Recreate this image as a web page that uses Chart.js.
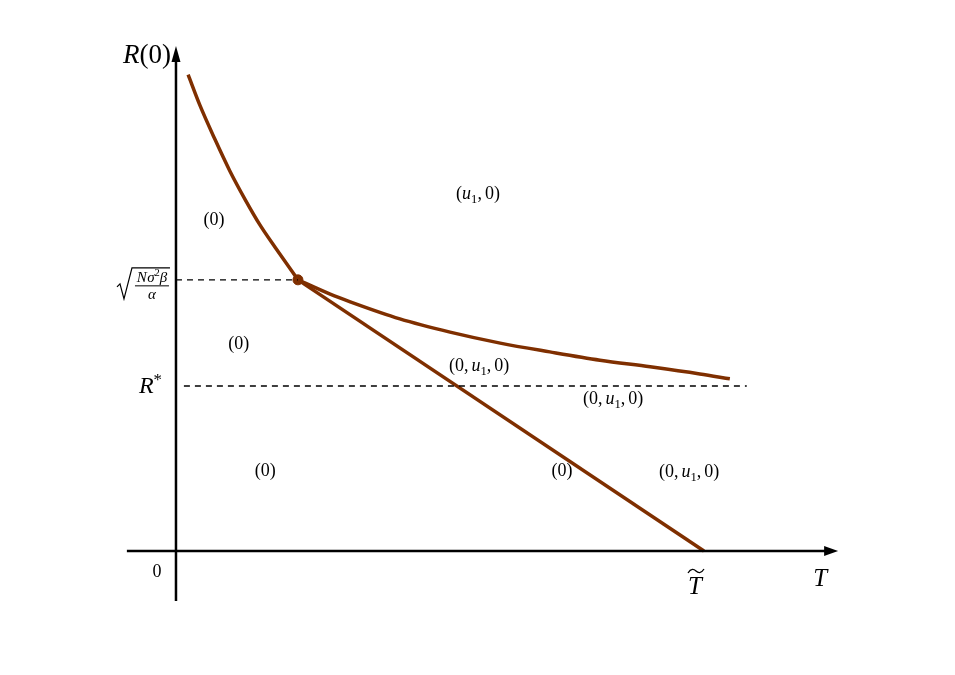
<!DOCTYPE html>
<html>
<head>
<meta charset="utf-8">
<script src="https://cdn.jsdelivr.net/npm/chart.js@4.4.1/dist/chart.umd.min.js"></script>
<style>
html,body{margin:0;padding:0;background:#fff;}
#wrap{width:955px;height:675px;}
</style>
</head>
<body>
<div id="wrap"><canvas id="c" width="955" height="675"></canvas></div>
<script>
// ---- data (schematic units: T on x, R(0) on y) ----
const T_TILDE = 10;
const R_STAR = 3;
const R_SQRT = 4.93;           // sqrt(N sigma^2 beta / alpha)
const T_JUNCTION = 2.31;

const leftCurveT  = [0.23, 0.45, 0.74, 1.02, 1.31, 1.59, 1.88, 2.31];
const leftCurveR  = [8.66, 8.11, 7.48, 6.91, 6.39, 5.93, 5.52, 4.93];

const rightCurveT = [2.31, 2.92, 3.30, 4.24, 5.19, 6.14, 7.08, 8.03, 8.98, 9.92, 10.49];
const rightCurveR = [4.93, 4.67, 4.53, 4.22, 3.98, 3.78, 3.62, 3.47, 3.35, 3.22, 3.13];

const boundaryT   = [2.31, 10];
const boundaryR   = [4.93, 0];

const sqrtDashT   = [0, 2.31];
const rStarDashT  = [0.15, 10.81];

const xAxisT = [-0.93, 12.54];
const yAxisR = [-0.91, 9.18];

const regionTexts = ["(0)", "(0)", "(0)", "(0)", "(u1,0)", "(0,u1,0)", "(0,u1,0)", "(0,u1,0)"];
const regionT     = [0.72, 1.19, 1.69, 7.31, 5.72, 5.74, 8.28, 9.72];
const regionR     = [5.93, 3.67, 1.36, 1.36, 6.40, 3.27, 2.67, 1.35];

const BROWN = "#7f2f00";
const SERIF = '"Liberation Serif", "DejaVu Serif", serif';

function pts(xs, ys){ return xs.map((x,i)=>({x:x, y:ys[i]})); }

function parseRich(s){
  const out = [];
  for (let i=0;i<s.length;i++){
    const ch = s[i];
    if (/[a-zA-Z]/.test(ch)) out.push({t:ch, i:true});
    else if (/[0-9]/.test(ch) && i>0 && /[a-zA-Z]/.test(s[i-1])) out.push({t:ch, sub:true});
    else if (ch === ',') out.push({t:',', after:3});
    else out.push({t:ch});
  }
  return out;
}

function runFont(r, size){
  const sz = (r.sub||r.sup) ? size*0.7 : size;
  return (r.i ? 'italic ' : '') + sz + 'px ' + SERIF;
}

function drawRich(ctx, runs, x, y, size, align){
  let w = 0;
  runs.forEach(r=>{ ctx.font = runFont(r,size); w += ctx.measureText(r.t).width + (r.after||0) + (r.before||0); });
  let cx = align==='center' ? x - w/2 : (align==='right' ? x - w : x);
  ctx.textBaseline = 'alphabetic';
  ctx.textAlign = 'left';
  runs.forEach(r=>{
    ctx.font = runFont(r,size);
    cx += (r.before||0);
    let dy = r.sub ? size*0.22 : (r.sup ? -size*(r.supK||0.38) : 0);
    ctx.fillText(r.t, cx, y+dy);
    cx += ctx.measureText(r.t).width + (r.after||0);
  });
  return w;
}

const annotPlugin = {
  id: 'annot',
  afterDatasetsDraw(chart){
    const ctx = chart.ctx;
    const xs = chart.scales.x, ys = chart.scales.y;
    const px = v => xs.getPixelForValue(v);
    const py = v => ys.getPixelForValue(v);
    ctx.save();
    ctx.fillStyle = '#000';
    ctx.strokeStyle = '#000';

    // arrowheads
    const xt = px(xAxisT[1]), xy = py(0);
    ctx.beginPath();
    ctx.moveTo(xt, xy); ctx.lineTo(xt-14, xy-5); ctx.lineTo(xt-14, xy+5); ctx.closePath(); ctx.fill();
    const yx = px(0), yt = py(yAxisR[1]);
    ctx.beginPath();
    ctx.moveTo(yx, yt); ctx.lineTo(yx-4.5, yt+16); ctx.lineTo(yx+4.5, yt+16); ctx.closePath(); ctx.fill();

    // region labels
    regionTexts.forEach((s,i)=>{
      drawRich(ctx, parseRich(s), px(regionT[i]), py(regionR[i]), 18, 'center');
    });

    // R(0) axis title
    drawRich(ctx, [{t:'R', i:true},{t:'(0)'}], px(0)-5, py(yAxisR[1])+17, 27, 'right');
    // T axis title
    drawRich(ctx, [{t:'T', i:true}], px(xAxisT[1])-18, py(0)+35, 25, 'center');
    // origin 0
    drawRich(ctx, [{t:'0'}], px(0)-19, py(0)+26, 18, 'center');
    // T tilde
    const ttx = px(T_TILDE)-9, tty = py(0)+43;
    drawRich(ctx, [{t:'T', i:true}], ttx, tty, 25, 'center');
    ctx.lineWidth = 1.3;
    ctx.beginPath();
    const ty0 = tty - 21;
    ctx.moveTo(ttx-7, ty0);
    ctx.bezierCurveTo(ttx-4, ty0-5, ttx-1, ty0-4, ttx+1, ty0-2);
    ctx.bezierCurveTo(ttx+3, ty0, ttx+6, ty0+1, ttx+9, ty0-4);
    ctx.stroke();
    // R*
    drawRich(ctx, [{t:'R', i:true},{t:'*', sup:true, supK:0.33}], px(0)-14, py(R_STAR)+7, 24, 'right');

    // sqrt(N sigma^2 beta / alpha)
    const sx = px(0), sy = py(R_SQRT);
    ctx.lineWidth = 1.2;
    ctx.beginPath();
    ctx.moveTo(sx-59, sy+7); ctx.lineTo(sx-56, sy+4);
    ctx.lineTo(sx-52, sy+19); ctx.lineTo(sx-44, sy-12); ctx.lineTo(sx-6, sy-12);
    ctx.stroke();
    ctx.lineWidth = 1;
    ctx.beginPath(); ctx.moveTo(sx-41, sy+6); ctx.lineTo(sx-7, sy+6); ctx.stroke();
    drawRich(ctx, [{t:'N', i:true, after:0.5},{t:'σ', i:true},{t:'2', sup:true, supK:0.42},{t:'β', i:true}], sx-24, sy+2, 15, 'center');
    drawRich(ctx, [{t:'α', i:true}], sx-24, sy+19, 15, 'center');

    ctx.restore();
  }
};

const lineDs = (data, opts) => Object.assign({
  data: data, showLine: true, pointRadius: 0, borderColor: BROWN, borderWidth: 3.5,
  fill: false, cubicInterpolationMode: 'monotone'
}, opts||{});

new Chart(document.getElementById('c'), {
  type: 'scatter',
  data: {
    datasets: [
      lineDs(pts([xAxisT[0], xAxisT[1]-0.2], [0,0]), {borderColor:'#000', borderWidth:2.5, cubicInterpolationMode:'default'}),
      lineDs(pts([0,0], [yAxisR[0], yAxisR[1]-0.2]), {borderColor:'#000', borderWidth:2.5, cubicInterpolationMode:'default'}),
      lineDs(pts(sqrtDashT, [R_SQRT, R_SQRT]), {borderColor:'#000', borderWidth:1.4, borderDash:[6,5]}),
      lineDs(pts(rStarDashT, [R_STAR, R_STAR]), {borderColor:'#000', borderWidth:1.4, borderDash:[6,5]}),
      lineDs(pts(leftCurveT, leftCurveR)),
      lineDs(pts(rightCurveT, rightCurveR)),
      lineDs(pts(boundaryT, boundaryR)),
      {data: [{x:T_JUNCTION, y:R_SQRT}], pointRadius: 5, pointBackgroundColor: BROWN, pointBorderColor: BROWN, showLine:false}
    ]
  },
  options: {
    responsive: false, animation: false,
    layout: {padding: 0, autoPadding: false},
    plugins: {legend: {display:false}, tooltip: {enabled:false}},
    scales: {
      x: {type:'linear', min:-3.333, max:14.754, display:false},
      y: {type:'linear', min:-2.2545, max:10.018, display:false}
    }
  },
  plugins: [annotPlugin]
});
</script>
</body>
</html>
